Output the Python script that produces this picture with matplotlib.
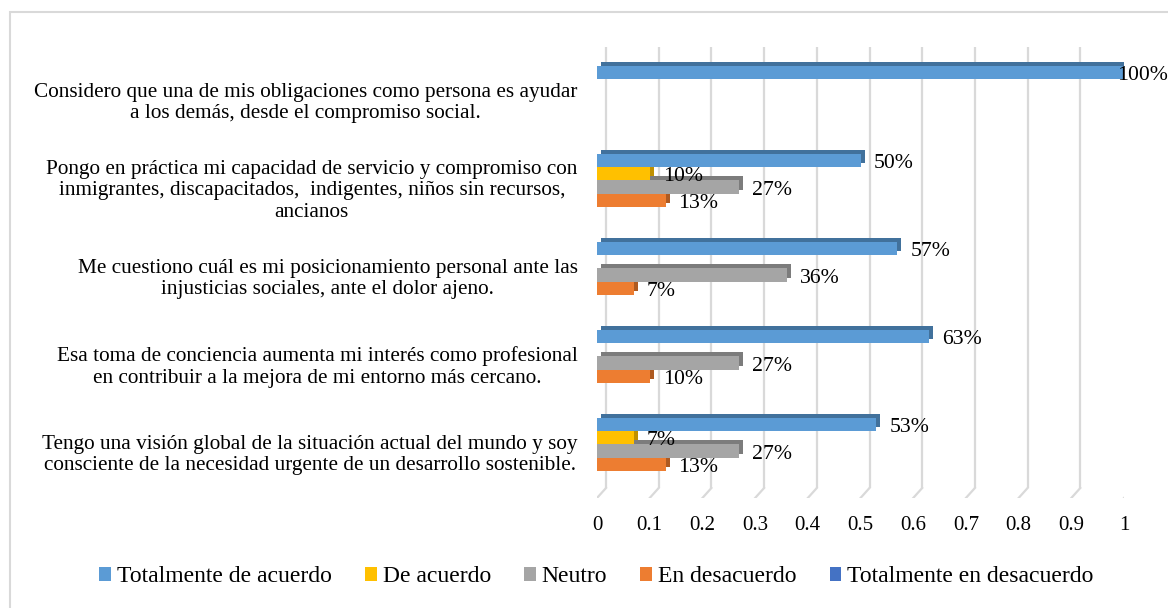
import matplotlib
matplotlib.use("Agg")
import matplotlib.pyplot as plt
from matplotlib.patches import Patch, Rectangle
import numpy as np

plt.rcParams['font.family'] = ['Liberation Serif', 'DejaVu Serif']

# ---- data ----
categories = [
    "Tengo una visión global de la situación actual del mundo y soy\nconsciente de la necesidad urgente de un desarrollo sostenible.",
    "Esa toma de conciencia aumenta mi interés como profesional\nen contribuir a la mejora de mi entorno más cercano.",
    "Me cuestiono cuál es mi posicionamiento personal ante las\ninjusticias sociales, ante el dolor ajeno.",
    "Pongo en práctica mi capacidad de servicio y compromiso con\ninmigrantes, discapacitados,  indigentes, niños sin recursos,\nancianos",
    "Considero que una de mis obligaciones como persona es ayudar\na los demás, desde el compromiso social.",
]
series_names = ["Totalmente de acuerdo", "De acuerdo", "Neutro", "En desacuerdo",
                "Totalmente en desacuerdo"]
totalmente_de_acuerdo = [0.53, 0.63, 0.57, 0.50, 1.00]
de_acuerdo = [0.07, 0.00, 0.00, 0.10, 0.00]
neutro = [0.27, 0.27, 0.36, 0.27, 0.00]
en_desacuerdo = [0.13, 0.10, 0.07, 0.13, 0.00]
totalmente_en_desacuerdo = [0.00, 0.00, 0.00, 0.00, 0.00]
xticks = [0, 0.1, 0.2, 0.3, 0.4, 0.5, 0.6, 0.7, 0.8, 0.9, 1]
xtick_labels = ["0", "0.1", "0.2", "0.3", "0.4", "0.5", "0.6", "0.7", "0.8", "0.9", "1"]

series = [totalmente_de_acuerdo, de_acuerdo, neutro, en_desacuerdo, totalmente_en_desacuerdo]
front_colors = ["#5B9BD5", "#FFC000", "#A5A5A5", "#ED7D31", "#4472C4"]
side_colors = ["#41719C", "#BF9000", "#7C7C7C", "#AE5A21", "#2F528F"]

W, H = 1168, 608
fig = plt.figure(figsize=(W / 100, H / 100), dpi=100)

# chart border
fig.patches.append(Rectangle((9.5 / W, -0.05), 1.2, 1 - 11.5 / H + 0.05,
                             transform=fig.transFigure, fill=False,
                             edgecolor="#D9D9D9", linewidth=1.5))

ax_left, ax_right, ax_top, ax_bottom = 597, 1124, 47, 498
ax = fig.add_axes([ax_left / W, 1 - ax_bottom / H, (ax_right - ax_left) / W,
                   (ax_bottom - ax_top) / H])
px_per_x = ax_right - ax_left
px_per_y = 88.0
y0 = -(ax_bottom - 451) / px_per_y
y1 = (451 - ax_top) / px_per_y
ax.set_xlim(0, 1)
ax.set_ylim(y0, y1)
for s in ax.spines.values():
    s.set_visible(False)

# 3D-like gridlines (back wall + floor slant)
gdx = 9 / px_per_x
gdy = 10 / px_per_y
for t in xticks:
    ax.plot([t + gdx, t + gdx], [y0 + gdy, y1], color="#D9D9D9", lw=1.6, zorder=0,
            solid_capstyle="butt")
    ax.plot([t, t + gdx], [y0, y0 + gdy], color="#D9D9D9", lw=1.6, zorder=0)

# bars
n = len(categories)
ypos = np.arange(n)
h = 13.3 / px_per_y
offsets = [2 * h, h, 0, -h, -2 * h]
bdx = 4 / px_per_x
bdy = 4 / px_per_y
lab_dx = 13 / px_per_x
lab_max = (1117 - ax_left) / px_per_x
for k in range(len(series) - 1, -1, -1):
    vals = np.array(series[k])
    mask = vals > 0
    yy = ypos[mask] + offsets[k]
    ax.barh(yy + bdy, vals[mask], left=bdx, height=h, color=side_colors[k],
            zorder=2 + (len(series) - k) * 0.1, linewidth=0)
for k in range(len(series) - 1, -1, -1):
    vals = np.array(series[k])
    mask = vals > 0
    yy = ypos[mask] + offsets[k]
    ax.barh(yy, vals[mask], height=h, color=front_colors[k], zorder=3, linewidth=0)
    for v, y in zip(vals[mask], yy):
        ax.text(min(v + lab_dx, lab_max), y - 0.035, f"{round(v * 100):d}%",
                ha="left", va="center", fontsize=15.7, zorder=5, color="black")

ax.set_yticks(ypos)
ax.set_yticklabels(categories, fontsize=15.3)
for lab in ax.get_yticklabels():
    lab.set_multialignment("center")
ax.tick_params(axis="y", length=0, pad=14)
ax.set_xticks(xticks)
ax.set_xticklabels(xtick_labels, fontsize=15)
ax.tick_params(axis="x", length=0, pad=13)

handles = [Patch(facecolor=c, edgecolor="none") for c in front_colors]
fig.legend(handles, series_names, loc="center", bbox_to_anchor=(596.5 / W, 1 - 577 / H),
           ncol=5, frameon=False, fontsize=17, handlelength=0.5, handleheight=0.5,
           handletextpad=0.25, columnspacing=1.4, borderaxespad=0)

fig.savefig("out.png", dpi=100)
